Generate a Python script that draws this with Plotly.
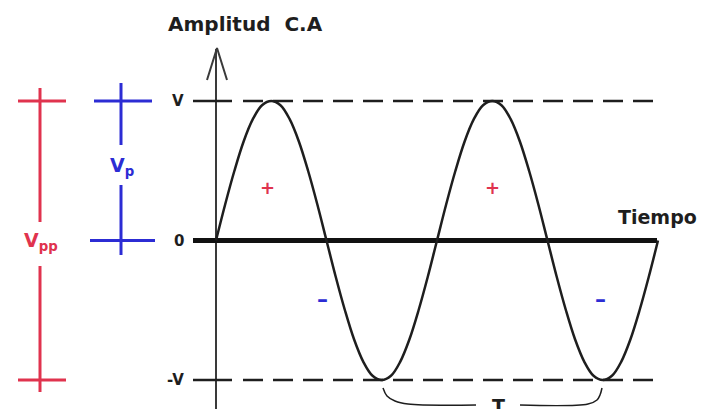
import plotly.graph_objects as go

# wave: time in periods, amplitude in units of V (read every 1/24 period)
t_key = [i / 24 for i in range(49)]
one_cycle = [0, 0.26, 0.5, 0.71, 0.87, 0.97, 1, 0.97, 0.87, 0.71, 0.5, 0.26,
             0, -0.26, -0.5, -0.71, -0.87, -0.97, -1, -0.97, -0.87, -0.71, -0.5, -0.26]
a_key = one_cycle + one_cycle + [0]
level_labels = ["V", "0", "-V"]
level_values = [1, 0, -1]
plus_t = [0.235, 1.249]
minus_t = [0.48, 1.742]

# the page body has an 8px margin, so the figure starts at page pixel 8
OFF = 8
W, H = 706 - OFF, 409 - OFF

# page pixel -> diagram units (t origin at x=216, one period = 221 px)
def X(px):
    return (px - 216) / 221.0

def A(py):
    return (240.5 - py) / 139.5

INK = "#1e1e1e"
RED = "#e0334e"
BLUE = "#2c2cd4"
FONT = "DejaVu Sans"

fig = go.Figure()

def line(xs, ys, color=INK, width=2, dash=None, shape="linear"):
    fig.add_trace(go.Scatter(x=xs, y=ys, mode="lines", hoverinfo="skip",
                             line=dict(color=color, width=width, dash=dash, shape=shape)))

# vertical axis with arrow
line([0, 0], [A(49), A(412)], color="#3a3a3a", width=2)
line([X(207), X(217), X(227)], [A(80), A(48), A(80)], color="#3a3a3a", width=2)

# zero (time) axis
line([X(193), X(657)], [0, 0], color="#111111", width=5)

# +V / -V ticks and dashed levels
for lv in (1, -1):
    line([X(193), X(232)], [lv, lv], color=INK, width=2.5)
    line([X(243), X(657)], [lv, lv], color=INK, width=2.5, dash="20px,10px")

# sine wave
line(t_key, a_key, color=INK, width=2.5, shape="spline")

# Vpp marker (red)
line([X(40), X(40), None, X(40), X(40)], [A(88), A(222), None, A(266), A(392)], color=RED, width=3)
line([X(18), X(66), None, X(18), X(66)], [1, 1, None, -1, -1], color=RED, width=3)

# Vp marker (blue)
line([X(121), X(121), None, X(121), X(121)], [A(83), A(145), None, A(185), A(255)], color=BLUE, width=3)
line([X(94), X(152), None, X(90), X(155)], [1, 1, None, 0, 0], color=BLUE, width=3)

# period brace
line([X(383), X(387), X(395), X(408), X(476)], [A(388), A(396), A(401), A(404), A(405)], color=INK, width=1.5, shape="spline")
line([X(520), X(588), X(597), X(600), X(602)], [A(405), A(404), A(400), A(395), A(388)], color=INK, width=1.5, shape="spline")

ann = []
def text(x, y, s, size, color=INK, xanchor="center", bold=True):
    ann.append(dict(x=x, y=y, text=f"<b>{s}</b>" if bold else s, showarrow=False,
                    xanchor=xanchor, yanchor="middle",
                    font=dict(family=FONT, size=size, color=color)))

text(X(245), A(24), "Amplitud  C.A", 20)
text(X(699), A(217), "Tiempo", 19, xanchor="right")
for lab, lv in zip(level_labels, level_values):
    text(X(186), lv, lab, 15, xanchor="right")
text(X(122), A(166), "V<sub>p</sub>", 19, color=BLUE)
text(X(41), A(241), "V<sub>pp</sub>", 19, color=RED)
for t in plus_t:
    text(t, A(187), "+", 18, color=RED)
for t in minus_t:
    text(t, A(299), "\u2013", 22, color=BLUE)
text(X(498), A(406), "T", 19)

fig.update_layout(
    width=W, height=H,
    margin=dict(l=0, r=0, t=0, b=0),
    paper_bgcolor="white", plot_bgcolor="white",
    showlegend=False,
    annotations=ann,
    xaxis=dict(range=[X(OFF), X(706)], visible=False, fixedrange=True),
    yaxis=dict(range=[A(409), A(OFF)], visible=False, fixedrange=True),
)

fig.write_html("out.html")
